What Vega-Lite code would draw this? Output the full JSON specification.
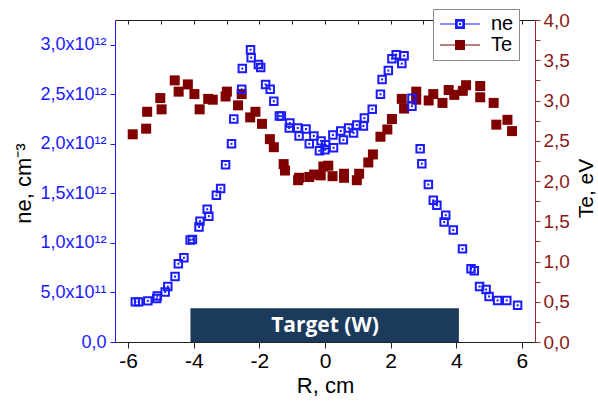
{
  "$schema": "https://vega.github.io/schema/vega-lite/v6.json",
  "width": 420,
  "height": 322,
  "autosize": {"type": "none"},
  "padding": {"left": 115, "top": 20, "right": 63, "bottom": 61},
  "config": {
    "view": {"stroke": null},
    "font": "Liberation Sans",
    "axis": {"titleFontWeight": "normal", "titleFont": "Liberation Sans", "labelFont": "Liberation Sans", "grid": false},
    "legend": {"orient": "none", "legendX": 318, "legendY": -11, "title": null,
      "symbolSize": 256, "symbolStrokeWidth": 1.2, "symbolOpacity": 1,
      "symbolOffset": 12, "labelOffset": 21, "labelFontSize": 20, "labelFont": "Liberation Sans", "labelColor": "black",
      "padding": 5, "rowPadding": 1, "strokeColor": "#888", "fillColor": "white"}
  },
  "datasets": {
    "ne": [
      {"R": -5.78, "ne": 0.405e12}, {"R": -5.68, "ne": 0.405e12}, {"R": -5.40, "ne": 0.415e12},
      {"R": -5.13, "ne": 0.44e12}, {"R": -5.11, "ne": 0.465e12}, {"R": -4.87, "ne": 0.505e12},
      {"R": -4.79, "ne": 0.56e12}, {"R": -4.57, "ne": 0.66e12}, {"R": -4.47, "ne": 0.79e12},
      {"R": -4.30, "ne": 0.85e12}, {"R": -4.11, "ne": 1.03e12}, {"R": -4.04, "ne": 1.035e12},
      {"R": -3.84, "ne": 1.16e12}, {"R": -3.81, "ne": 1.22e12}, {"R": -3.59, "ne": 1.34e12},
      {"R": -3.54, "ne": 1.27e12}, {"R": -3.31, "ne": 1.48e12}, {"R": -3.18, "ne": 1.55e12},
      {"R": -3.03, "ne": 1.79e12}, {"R": -2.85, "ne": 2.00e12}, {"R": -2.78, "ne": 2.25e12},
      {"R": -2.54, "ne": 2.55e12}, {"R": -2.52, "ne": 2.76e12}, {"R": -2.27, "ne": 2.95e12},
      {"R": -2.25, "ne": 2.87e12}, {"R": -2.03, "ne": 2.80e12}, {"R": -1.96, "ne": 2.77e12},
      {"R": -1.81, "ne": 2.60e12}, {"R": -1.67, "ne": 2.55e12}, {"R": -1.56, "ne": 2.43e12},
      {"R": -1.39, "ne": 2.28e12}, {"R": -1.33, "ne": 2.28e12}, {"R": -1.07, "ne": 2.21e12},
      {"R": -1.09, "ne": 2.16e12}, {"R": -0.83, "ne": 2.16e12}, {"R": -0.79, "ne": 2.08e12},
      {"R": -0.58, "ne": 2.15e12}, {"R": -0.48, "ne": 2.00e12}, {"R": -0.34, "ne": 2.08e12},
      {"R": -0.17, "ne": 1.93e12}, {"R": -0.12, "ne": 2.03e12}, {"R": 0.02, "ne": 1.99e12},
      {"R": 0.00, "ne": 1.94e12}, {"R": 0.26, "ne": 1.96e12}, {"R": 0.24, "ne": 2.09e12},
      {"R": 0.48, "ne": 2.13e12}, {"R": 0.56, "ne": 2.04e12}, {"R": 0.72, "ne": 2.16e12},
      {"R": 0.87, "ne": 2.11e12}, {"R": 0.97, "ne": 2.19e12}, {"R": 1.17, "ne": 2.18e12},
      {"R": 1.20, "ne": 2.26e12}, {"R": 1.44, "ne": 2.35e12}, {"R": 1.69, "ne": 2.50e12},
      {"R": 1.74, "ne": 2.65e12}, {"R": 1.93, "ne": 2.74e12}, {"R": 2.04, "ne": 2.86e12},
      {"R": 2.17, "ne": 2.90e12}, {"R": 2.34, "ne": 2.81e12}, {"R": 2.41, "ne": 2.89e12},
      {"R": 2.65, "ne": 2.46e12}, {"R": 2.65, "ne": 2.38e12}, {"R": 2.90, "ne": 1.95e12},
      {"R": 2.95, "ne": 1.80e12}, {"R": 3.15, "ne": 1.59e12}, {"R": 3.30, "ne": 1.43e12},
      {"R": 3.41, "ne": 1.38e12}, {"R": 3.63, "ne": 1.21e12}, {"R": 3.68, "ne": 1.28e12},
      {"R": 3.91, "ne": 1.13e12}, {"R": 4.19, "ne": 0.94e12}, {"R": 4.45, "ne": 0.74e12},
      {"R": 4.55, "ne": 0.72e12}, {"R": 4.71, "ne": 0.56e12}, {"R": 4.91, "ne": 0.53e12},
      {"R": 5.00, "ne": 0.46e12}, {"R": 5.26, "ne": 0.42e12}, {"R": 5.54, "ne": 0.42e12},
      {"R": 5.87, "ne": 0.37e12}
    ],
    "te": [
      {"R": -5.86, "Te": 2.58}, {"R": -5.45, "Te": 2.65}, {"R": -5.42, "Te": 2.86},
      {"R": -5.02, "Te": 3.03}, {"R": -4.98, "Te": 2.89}, {"R": -4.58, "Te": 3.25},
      {"R": -4.46, "Te": 3.11}, {"R": -4.18, "Te": 3.20}, {"R": -3.98, "Te": 3.08},
      {"R": -3.82, "Te": 2.89}, {"R": -3.56, "Te": 3.02}, {"R": -3.42, "Te": 3.01},
      {"R": -3.03, "Te": 3.05}, {"R": -2.99, "Te": 3.11}, {"R": -2.65, "Te": 2.94},
      {"R": -2.54, "Te": 3.08}, {"R": -2.28, "Te": 2.79}, {"R": -2.12, "Te": 2.86},
      {"R": -1.92, "Te": 2.71}, {"R": -1.68, "Te": 2.52}, {"R": -1.56, "Te": 2.42},
      {"R": -1.26, "Te": 2.21}, {"R": -1.22, "Te": 2.13}, {"R": -0.82, "Te": 2.01},
      {"R": -0.79, "Te": 2.04}, {"R": -0.48, "Te": 2.05}, {"R": -0.33, "Te": 2.08},
      {"R": -0.13, "Te": 2.07}, {"R": -0.05, "Te": 2.18}, {"R": 0.10, "Te": 2.19},
      {"R": 0.23, "Te": 2.06}, {"R": 0.58, "Te": 2.09}, {"R": 0.58, "Te": 2.04},
      {"R": 0.97, "Te": 2.01}, {"R": 1.04, "Te": 2.09}, {"R": 1.32, "Te": 2.23},
      {"R": 1.46, "Te": 2.33}, {"R": 1.69, "Te": 2.55}, {"R": 1.90, "Te": 2.64},
      {"R": 2.04, "Te": 2.77}, {"R": 2.34, "Te": 3.02}, {"R": 2.41, "Te": 2.90},
      {"R": 2.78, "Te": 3.11}, {"R": 2.78, "Te": 3.01}, {"R": 3.16, "Te": 3.00},
      {"R": 3.30, "Te": 3.08}, {"R": 3.58, "Te": 2.97}, {"R": 3.77, "Te": 3.13},
      {"R": 3.94, "Te": 3.07}, {"R": 4.20, "Te": 3.12}, {"R": 4.30, "Te": 3.19},
      {"R": 4.73, "Te": 3.18}, {"R": 4.73, "Te": 3.04}, {"R": 5.14, "Te": 2.97},
      {"R": 5.22, "Te": 2.70}, {"R": 5.56, "Te": 2.76}, {"R": 5.70, "Te": 2.62}
    ],
    "target": [
      {"start": -4.1, "end": 4.08, "bottom": 0, "top": 0.34e12, "center": 0, "mid": 0.165e12, "label": "Target (W)"}
    ],
    "series": [{"series": "ne"}, {"series": "Te"}]
  },
  "layer": [
    {
      "layer": [
        {
          "data": {"name": "te"},
          "mark": {"type": "point", "shape": "square", "filled": true, "size": 100, "opacity": 1, "color": "#800000"},
          "encoding": {
            "x": {"field": "R", "type": "quantitative", "scale": {"domain": [-6.4, 6.4], "nice": false, "zero": false},
              "axis": {"orient": "top", "labels": false, "title": null, "values": [-6,-5,-4,-3,-2,-1,0,1,2,3,4,5,6], "tickSize": -4, "domainColor": "#222", "tickColor": "#222"}},
            "y": {"field": "Te", "type": "quantitative", "scale": {"domain": [0, 4], "nice": false, "zero": true},
              "axis": {"orient": "right", "title": "Te, eV", "titleAngle": -90, "titleFontSize": 21, "titleColor": "black",
                "titleX": 51, "titleY": 168, "titleAlign": "center", "titleBaseline": "middle",
                "values": [0,0.25,0.5,0.75,1,1.25,1.5,1.75,2,2.25,2.5,2.75,3,3.25,3.5,3.75,4],
                "labelExpr": "(round(datum.value*4) % 2 == 1) ? '' : replace(format(datum.value,'.1f'),'.',',')",
                "labelFontSize": 19, "labelColor": "#8b1a1a", "domainColor": "#9b2a2a", "tickColor": "#9b2a2a", "tickSize": 5, "labelPadding": 3}}
          }
        },
        {
          "data": {"name": "series"},
          "mark": {"type": "point", "filled": true, "size": 256, "opacity": 0},
          "encoding": {
            "fill": {"field": "series", "type": "nominal", "scale": {"domain": ["ne", "Te"], "range": ["#1a1aff", "#800000"]}},
            "stroke": {"field": "series", "type": "nominal", "scale": {"domain": ["ne", "Te"], "range": ["#1a1aff", "#800000"]}},
            "shape": {"field": "series", "type": "nominal", "scale": {"domain": ["ne", "Te"], "range": [
              "M-2.5,0H-0.6M0.6,0H2.5M-0.55,-0.55H0.55V0.55H-0.55ZM-0.36,-0.36V0.36H0.36V-0.36ZM-0.06,-0.06H0.06V0.06H-0.06Z",
              "M-2.5,0H-0.55M0.55,0H2.5M-0.55,-0.55H0.55V0.55H-0.55Z"]}}
          }
        }
      ]
    },
    {
      "layer": [
        {
          "data": {"name": "target"},
          "mark": {"type": "rect", "color": "#1b3a5c"},
          "encoding": {
            "x": {"field": "start", "type": "quantitative", "title": "R, cm", "scale": {"domain": [-6.4, 6.4], "nice": false, "zero": false},
              "axis": {"orient": "bottom", "title": "R, cm", "titleFontSize": 22, "titleColor": "black",
                "values": [-6,-5,-4,-3,-2,-1,0,1,2,3,4,5,6],
                "labelExpr": "datum.value % 2 == 0 ? '' + datum.value : ''",
                "labelFontSize": 21, "labelColor": "black", "domainColor": "#222", "tickColor": "#222",
                "tickSize": {"condition": {"test": "datum.value % 2 == 0", "value": 6}, "value": 3}, "labelPadding": 2}},
            "x2": {"field": "end"},
            "y": {"field": "bottom", "type": "quantitative", "title": "ne, cm⁻³", "scale": {"domain": [0, 3.25e12], "nice": false}},
            "y2": {"field": "top"}
          }
        },
        {
          "data": {"name": "target"},
          "mark": {"type": "text", "color": "white", "font": "Open Sans", "fontWeight": "bold", "fontSize": 21, "baseline": "middle", "align": "center"},
          "encoding": {
            "x": {"field": "center", "type": "quantitative", "title": "R, cm"},
            "y": {"field": "mid", "type": "quantitative", "title": "ne, cm⁻³"},
            "text": {"field": "label"}
          }
        },
        {
          "data": {"name": "ne"},
          "mark": {"type": "point", "shape": "square", "filled": false, "size": 56, "strokeWidth": 2, "opacity": 1, "color": "#1a1aff"},
          "encoding": {
            "x": {"field": "R", "type": "quantitative", "title": "R, cm"},
            "y": {"field": "ne", "type": "quantitative", "title": "ne, cm⁻³",
              "axis": {"orient": "left", "title": "ne, cm⁻³", "titleFontSize": 22, "titleColor": "black",
                "titleX": -92, "titleY": 163, "titleAlign": "center", "titleBaseline": "middle",
                "values": [0,2.5e11,5e11,7.5e11,1e12,1.25e12,1.5e12,1.75e12,2e12,2.25e12,2.5e12,2.75e12,3e12],
                "labelExpr": "(round(datum.value/2.5e11) % 2 == 1) ? '' : datum.value == 0 ? '0,0' : datum.value < 1e12 ? replace(format(datum.value/1e11,'.1f'),'.',',') + 'x10¹¹' : replace(format(datum.value/1e12,'.1f'),'.',',') + 'x10¹²'",
                "labelFontSize": 18, "labelColor": "#1a1aff", "domainColor": "#1a1aff", "tickColor": "#1a1aff", "tickSize": 5, "labelPadding": 4}}
          }
        },
        {
          "data": {"name": "ne"},
          "mark": {"type": "point", "shape": "square", "filled": true, "size": 4, "color": "#1a1aff", "opacity": 1},
          "encoding": {
            "x": {"field": "R", "type": "quantitative", "title": "R, cm"},
            "y": {"field": "ne", "type": "quantitative", "title": "ne, cm⁻³"}
          }
        }
      ]
    }
  ],
  "resolve": {"scale": {"y": "independent"}, "axis": {"x": "independent"}}
}
